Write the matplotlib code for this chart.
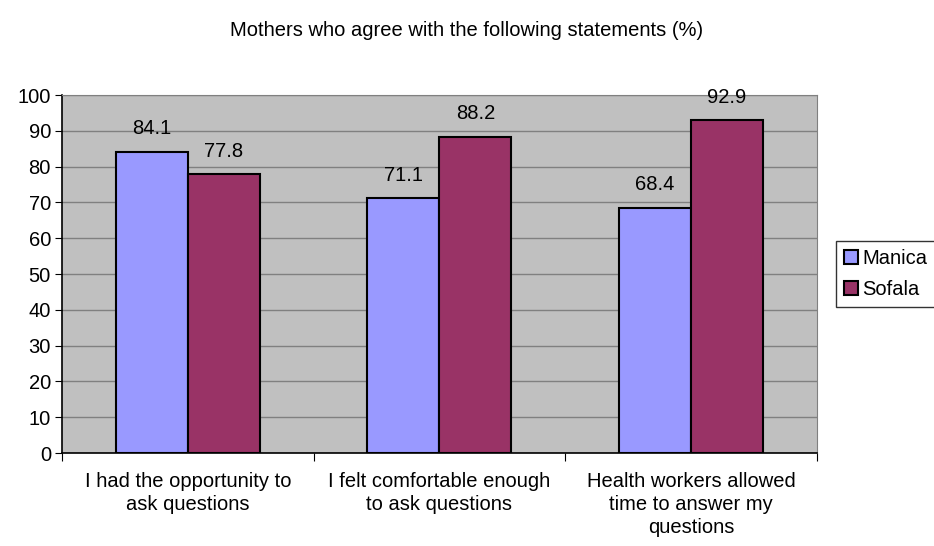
import numpy as np
import matplotlib
matplotlib.use("Agg")
import matplotlib.pyplot as plt

plt.rcParams['font.family'] = ['Liberation Sans', 'DejaVu Sans']

categories = ["I had the opportunity to\nask questions",
              "I felt comfortable enough\nto ask questions",
              "Health workers allowed\ntime to answer my\nquestions"]
manica = [84.1, 71.1, 68.4]
sofala = [77.8, 88.2, 92.9]

fs = 14.5

fig = plt.figure(figsize=(9.34, 5.46), dpi=100)
ax = fig.add_axes([0.0664, 0.1703, 0.808, 0.6557])
ax.set_facecolor("#C0C0C0")

x = np.arange(len(categories))
w = 0.286
b1 = ax.bar(x - w / 2, manica, w, color="#9999FF", edgecolor="black", linewidth=1.5, label="Manica", zorder=3)
b2 = ax.bar(x + w / 2, sofala, w, color="#993366", edgecolor="black", linewidth=1.5, label="Sofala", zorder=3)

for bars in (b1, b2):
    for r in bars:
        ax.annotate(f"{r.get_height():.1f}", (r.get_x() + r.get_width() / 2, r.get_height()),
                    xytext=(0, 10), textcoords="offset points", ha="center", va="bottom",
                    fontsize=fs)

ax.set_xlim(-0.5, 2.5)
ax.set_ylim(0, 100)
ax.set_yticks(range(0, 101, 10))
ax.set_xticks([-0.5, 0.5, 1.5, 2.5])
ax.set_xticklabels([])
ax.set_xticks(x, minor=True)
ax.set_xticklabels(categories, minor=True, fontsize=fs, linespacing=1.25)
ax.tick_params(axis="x", which="minor", length=0, pad=14)
ax.tick_params(axis="x", which="major", length=6, direction="out", color="black")
ax.tick_params(axis="y", length=5, direction="out", labelsize=fs, pad=3)
ax.grid(axis="y", color="#808080", linewidth=1, zorder=0)
ax.set_axisbelow(True)

for s in ("top", "right"):
    ax.spines[s].set_color("#808080")
for s in ("left", "bottom"):
    ax.spines[s].set_color("black")
    ax.spines[s].set_linewidth(1.2)

fig.text(0.5, 0.945, "Mothers who agree with the following statements (%)", ha="center", va="center", fontsize=fs)

leg = ax.legend(loc="center left", bbox_to_anchor=(1.026, 0.5), frameon=True, fancybox=False,
                fontsize=fs, handlelength=0.7, handleheight=0.7, handletextpad=0.2,
                borderpad=0.4, borderaxespad=0, labelspacing=0.6)
leg.get_frame().set_edgecolor("black")
leg.get_frame().set_linewidth(1)
for h in leg.legend_handles:
    h.set_linewidth(1.5)

plt.savefig("out.png", dpi=100)
plt.close()
